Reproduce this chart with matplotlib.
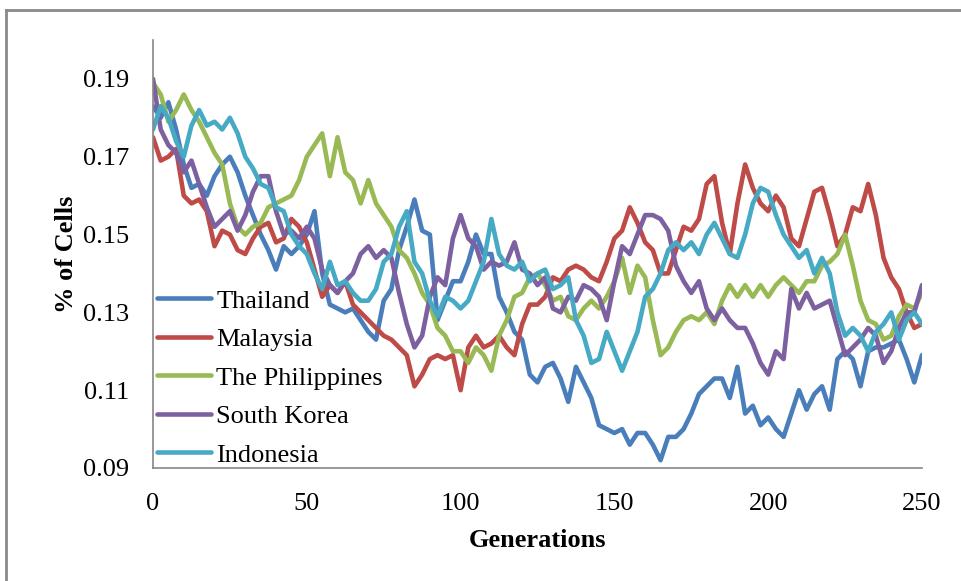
import numpy as np
import matplotlib
matplotlib.use("Agg")
import matplotlib.pyplot as plt
from matplotlib.lines import Line2D

plt.rcParams["font.family"] = ["Liberation Serif", "DejaVu Serif"]

# generations sampled every 2.5 steps
generations = np.arange(0, 250.1, 2.5)

thailand = [
    0.183, 0.180, 0.184, 0.177, 0.168, 0.162, 0.163, 0.160, 0.165, 0.168,
    0.170, 0.166, 0.160, 0.155, 0.150, 0.146, 0.141, 0.147, 0.145, 0.147,
    0.150, 0.156, 0.140, 0.132, 0.131, 0.130, 0.131, 0.128, 0.125, 0.123,
    0.133, 0.136, 0.146, 0.152, 0.159, 0.151, 0.150, 0.128, 0.133, 0.138,
    0.138, 0.143, 0.150, 0.145, 0.145, 0.134, 0.130, 0.125, 0.123, 0.114,
    0.112, 0.116, 0.117, 0.113, 0.107, 0.116, 0.112, 0.108, 0.101, 0.100,
    0.099, 0.100, 0.096, 0.099, 0.099, 0.096, 0.092, 0.098, 0.098, 0.100,
    0.104, 0.109, 0.111, 0.113, 0.113, 0.108, 0.116, 0.104, 0.106, 0.101,
    0.103, 0.100, 0.098, 0.104, 0.110, 0.105, 0.109, 0.111, 0.105, 0.118,
    0.120, 0.118, 0.111, 0.120, 0.121, 0.121, 0.122, 0.123, 0.118, 0.112,
    0.119,
]

malaysia = [
    0.175, 0.169, 0.170, 0.172, 0.160, 0.158, 0.159, 0.156, 0.147, 0.151,
    0.150, 0.146, 0.145, 0.149, 0.152, 0.153, 0.148, 0.149, 0.154, 0.152,
    0.148, 0.141, 0.134, 0.137, 0.135, 0.138, 0.132, 0.130, 0.128, 0.126,
    0.124, 0.123, 0.121, 0.119, 0.111, 0.114, 0.118, 0.119, 0.118, 0.119,
    0.110, 0.121, 0.124, 0.121, 0.122, 0.124, 0.121, 0.119, 0.127, 0.132,
    0.132, 0.134, 0.139, 0.138, 0.141, 0.142, 0.141, 0.139, 0.138, 0.143,
    0.149, 0.151, 0.157, 0.153, 0.148, 0.146, 0.140, 0.140, 0.146, 0.152,
    0.151, 0.154, 0.163, 0.165, 0.153, 0.145, 0.158, 0.168, 0.162, 0.158,
    0.156, 0.160, 0.157, 0.149, 0.147, 0.154, 0.161, 0.162, 0.155, 0.147,
    0.150, 0.157, 0.156, 0.163, 0.155, 0.144, 0.139, 0.136, 0.130, 0.126,
    0.127,
]

philippines = [
    0.189, 0.186, 0.179, 0.182, 0.186, 0.182, 0.179, 0.175, 0.171, 0.168,
    0.158, 0.152, 0.150, 0.152, 0.153, 0.157, 0.158, 0.159, 0.160, 0.164,
    0.170, 0.173, 0.176, 0.165, 0.175, 0.166, 0.164, 0.158, 0.164, 0.158,
    0.155, 0.152, 0.146, 0.144, 0.140, 0.135, 0.132, 0.126, 0.124, 0.120,
    0.120, 0.117, 0.121, 0.119, 0.115, 0.124, 0.128, 0.134, 0.135, 0.139,
    0.140, 0.137, 0.133, 0.134, 0.129, 0.128, 0.131, 0.133, 0.131, 0.134,
    0.138, 0.144, 0.135, 0.142, 0.139, 0.128, 0.119, 0.121, 0.125, 0.128,
    0.129, 0.128, 0.130, 0.127, 0.133, 0.137, 0.134, 0.137, 0.134, 0.137,
    0.134, 0.137, 0.139, 0.137, 0.135, 0.138, 0.138, 0.142, 0.143, 0.145,
    0.150, 0.142, 0.133, 0.128, 0.127, 0.123, 0.124, 0.129, 0.132, 0.131,
    0.135,
]

south_korea = [
    0.190, 0.177, 0.173, 0.171, 0.166, 0.169, 0.163, 0.157, 0.152, 0.154,
    0.156, 0.151, 0.155, 0.161, 0.165, 0.165, 0.156, 0.150, 0.151, 0.149,
    0.152, 0.149, 0.141, 0.137, 0.135, 0.138, 0.140, 0.145, 0.147, 0.144,
    0.146, 0.144, 0.135, 0.127, 0.121, 0.124, 0.134, 0.139, 0.137, 0.149,
    0.155, 0.149, 0.147, 0.141, 0.143, 0.142, 0.143, 0.148, 0.141, 0.140,
    0.137, 0.139, 0.131, 0.130, 0.134, 0.133, 0.137, 0.136, 0.134, 0.128,
    0.138, 0.147, 0.145, 0.150, 0.155, 0.155, 0.154, 0.151, 0.142, 0.138,
    0.135, 0.138, 0.131, 0.128, 0.131, 0.128, 0.126, 0.126, 0.122, 0.117,
    0.114, 0.120, 0.118, 0.136, 0.131, 0.135, 0.131, 0.132, 0.133, 0.126,
    0.119, 0.121, 0.123, 0.126, 0.124, 0.117, 0.120, 0.126, 0.130, 0.130,
    0.137,
]

indonesia = [
    0.177, 0.183, 0.180, 0.174, 0.170, 0.178, 0.182, 0.178, 0.179, 0.177,
    0.180, 0.176, 0.170, 0.167, 0.163, 0.162, 0.157, 0.156, 0.150, 0.147,
    0.145, 0.140, 0.136, 0.143, 0.137, 0.138, 0.135, 0.133, 0.133, 0.136,
    0.143, 0.145, 0.152, 0.156, 0.143, 0.140, 0.133, 0.129, 0.134, 0.133,
    0.131, 0.133, 0.138, 0.143, 0.154, 0.145, 0.142, 0.141, 0.143, 0.138,
    0.140, 0.141, 0.136, 0.137, 0.139, 0.128, 0.124, 0.117, 0.118, 0.125,
    0.120, 0.115, 0.120, 0.125, 0.134, 0.136, 0.140, 0.146, 0.148, 0.146,
    0.148, 0.145, 0.150, 0.153, 0.149, 0.145, 0.144, 0.150, 0.158, 0.162,
    0.161, 0.155, 0.150, 0.147, 0.144, 0.146, 0.140, 0.144, 0.140, 0.130,
    0.124, 0.126, 0.124, 0.120, 0.125, 0.127, 0.130, 0.123, 0.128, 0.130,
    0.127,
]

series = [
    ("Thailand", thailand, "#4A7EBB"),
    ("Malaysia", malaysia, "#BE4B48"),
    ("The Philippines", philippines, "#98B954"),
    ("South Korea", south_korea, "#7D60A0"),
    ("Indonesia", indonesia, "#46AAC5"),
]

y_ticks = [0.09, 0.11, 0.13, 0.15, 0.17, 0.19]
x_ticks = [0, 50, 100, 150, 200, 250]

W, H = 961, 581
fig = plt.figure(figsize=(W / 100, H / 100), dpi=100)
ax = fig.add_axes([153 / W, 1 - 468 / H, 769 / W, 428 / H])

for name, vals, col in series:
    ax.plot(generations, vals, color=col, lw=3.3, label=name,
            solid_joinstyle="round", solid_capstyle="round")

ax.set_xlim(0, 250)
ax.set_ylim(0.09, 0.20)
ax.set_xticks(x_ticks)
ax.set_yticks(y_ticks)
ax.set_yticklabels([f"{v:.2f}" for v in y_ticks])
ax.tick_params(length=0, labelsize=19, colors="black")
ax.tick_params(axis="y", pad=17)
ax.tick_params(axis="x", pad=18)

for side in ["top", "right"]:
    ax.spines[side].set_visible(False)
for side in ["left", "bottom"]:
    ax.spines[side].set_color("#868686")
    ax.spines[side].set_linewidth(1.2)

ax.set_xlabel("Generations", fontsize=19, fontweight="bold", labelpad=10)
ax.set_ylabel("% of Cells", fontsize=19, fontweight="bold", labelpad=4)

leg = ax.legend(loc="lower left", bbox_to_anchor=(0.0, -0.006), frameon=False,
                fontsize=19, handlelength=2.05, handletextpad=0.2,
                labelspacing=0.57, borderaxespad=0.0, borderpad=0.15)
leg.set_zorder(5)

# outer chart border (top and left edges show)
fig.add_artist(Line2D([6 / W, 1.0], [1 - 10 / H, 1 - 10 / H], transform=fig.transFigure,
                      color="#8A8A8A", lw=2))
fig.add_artist(Line2D([6 / W, 6 / W], [0.0, 1 - 10 / H], transform=fig.transFigure,
                      color="#8A8A8A", lw=2))

fig.savefig("out.png", dpi=100, facecolor="white")
